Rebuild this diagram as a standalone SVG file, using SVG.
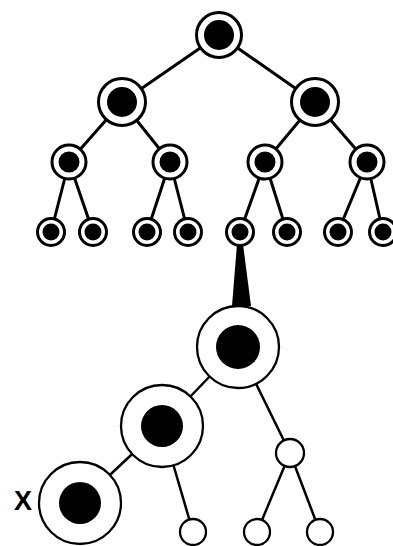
<svg xmlns="http://www.w3.org/2000/svg" width="393" height="546" viewBox="0 0 393 546">
<style>
.e{stroke:#000;stroke-width:3;stroke-linecap:round}
.e2{stroke:#000;stroke-width:2.5;stroke-linecap:round}
.ring{fill:#fff;stroke:#000;stroke-width:3}
.ring2{fill:#fff;stroke:#000;stroke-width:2.3}
.core{fill:#000}
.lbl{font-family:"Liberation Sans",Arial,sans-serif;font-size:27px;font-weight:bold;fill:#000}
</style>
<rect width="393" height="546" fill="#fff"/>
<g id="connectors">
<line class="e" x1="219" y1="35" x2="122" y2="102"/>
<line class="e" x1="219" y1="35" x2="315" y2="102"/>
<line class="e" x1="122" y1="102" x2="69" y2="162"/>
<line class="e" x1="122" y1="102" x2="170" y2="162"/>
<line class="e" x1="315" y1="102" x2="265" y2="162"/>
<line class="e" x1="315" y1="102" x2="367" y2="162"/>
<line class="e" x1="69" y1="162" x2="51" y2="232"/>
<line class="e" x1="69" y1="162" x2="93" y2="232"/>
<line class="e" x1="170" y1="162" x2="147" y2="232"/>
<line class="e" x1="170" y1="162" x2="188" y2="232"/>
<line class="e" x1="265" y1="162" x2="240" y2="232"/>
<line class="e" x1="265" y1="162" x2="287" y2="232"/>
<line class="e" x1="367" y1="162" x2="338" y2="232"/>
<line class="e" x1="367" y1="162" x2="383" y2="232"/>
<polygon points="237,244 243,244 251,306 232,306" fill="#000"/>
<line class="e2" x1="238" y1="347" x2="162" y2="426"/>
<line class="e2" x1="238" y1="347" x2="290" y2="453"/>
<line class="e2" x1="162" y1="426" x2="80" y2="503"/>
<line class="e2" x1="162" y1="426" x2="193" y2="532"/>
<line class="e2" x1="290" y1="453" x2="257" y2="532"/>
<line class="e2" x1="290" y1="453" x2="320" y2="532"/>
</g>
<g id="root"><circle class="ring" cx="219" cy="35" r="22.5"/><circle class="core" cx="219" cy="35" r="15"/></g>
<g id="l2a"><circle class="ring" cx="122" cy="102" r="23.5"/><circle class="core" cx="122" cy="102" r="15"/></g>
<g id="l2b"><circle class="ring" cx="315" cy="102" r="23.5"/><circle class="core" cx="315" cy="102" r="15"/></g>
<g id="l3a"><circle class="ring" cx="69" cy="162" r="17"/><circle class="core" cx="69" cy="162" r="10.5"/></g>
<g id="l3b"><circle class="ring" cx="170" cy="162" r="17"/><circle class="core" cx="170" cy="162" r="10.5"/></g>
<g id="l3c"><circle class="ring" cx="265" cy="162" r="17"/><circle class="core" cx="265" cy="162" r="10.5"/></g>
<g id="l3d"><circle class="ring" cx="367" cy="162" r="17"/><circle class="core" cx="367" cy="162" r="10.5"/></g>
<g id="l4a"><circle class="ring" cx="51" cy="232" r="13.5"/><circle class="core" cx="51" cy="232" r="8.5"/></g>
<g id="l4b"><circle class="ring" cx="93" cy="232" r="13.5"/><circle class="core" cx="93" cy="232" r="8.5"/></g>
<g id="l4c"><circle class="ring" cx="147" cy="232" r="13.5"/><circle class="core" cx="147" cy="232" r="8.5"/></g>
<g id="l4d"><circle class="ring" cx="188" cy="232" r="13.5"/><circle class="core" cx="188" cy="232" r="8.5"/></g>
<g id="l4e"><circle class="ring" cx="240" cy="232" r="13.5"/><circle class="core" cx="240" cy="232" r="8.5"/></g>
<g id="l4f"><circle class="ring" cx="287" cy="232" r="13.5"/><circle class="core" cx="287" cy="232" r="8.5"/></g>
<g id="l4g"><circle class="ring" cx="338" cy="232" r="13.5"/><circle class="core" cx="338" cy="232" r="8.5"/></g>
<g id="l4h"><circle class="ring" cx="383" cy="232" r="13.5"/><circle class="core" cx="383" cy="232" r="8.5"/></g>
<g id="big"><circle class="ring2" cx="238" cy="347" r="41"/><circle class="core" cx="238" cy="347" r="22"/></g>
<g id="mid"><circle class="ring2" cx="162" cy="426" r="41"/><circle class="core" cx="162" cy="426" r="21"/></g>
<g id="x"><circle class="ring2" cx="80" cy="503" r="41"/><circle class="core" cx="80" cy="503" r="21"/><text class="lbl" x="14" y="510">X</text></g>
<g id="o1"><circle class="ring2" cx="290" cy="453" r="14"/></g>
<g id="o2"><circle class="ring2" cx="193" cy="532" r="13"/></g>
<g id="o3"><circle class="ring2" cx="257" cy="532" r="13"/></g>
<g id="o4"><circle class="ring2" cx="320" cy="532" r="13"/></g>
</svg>
